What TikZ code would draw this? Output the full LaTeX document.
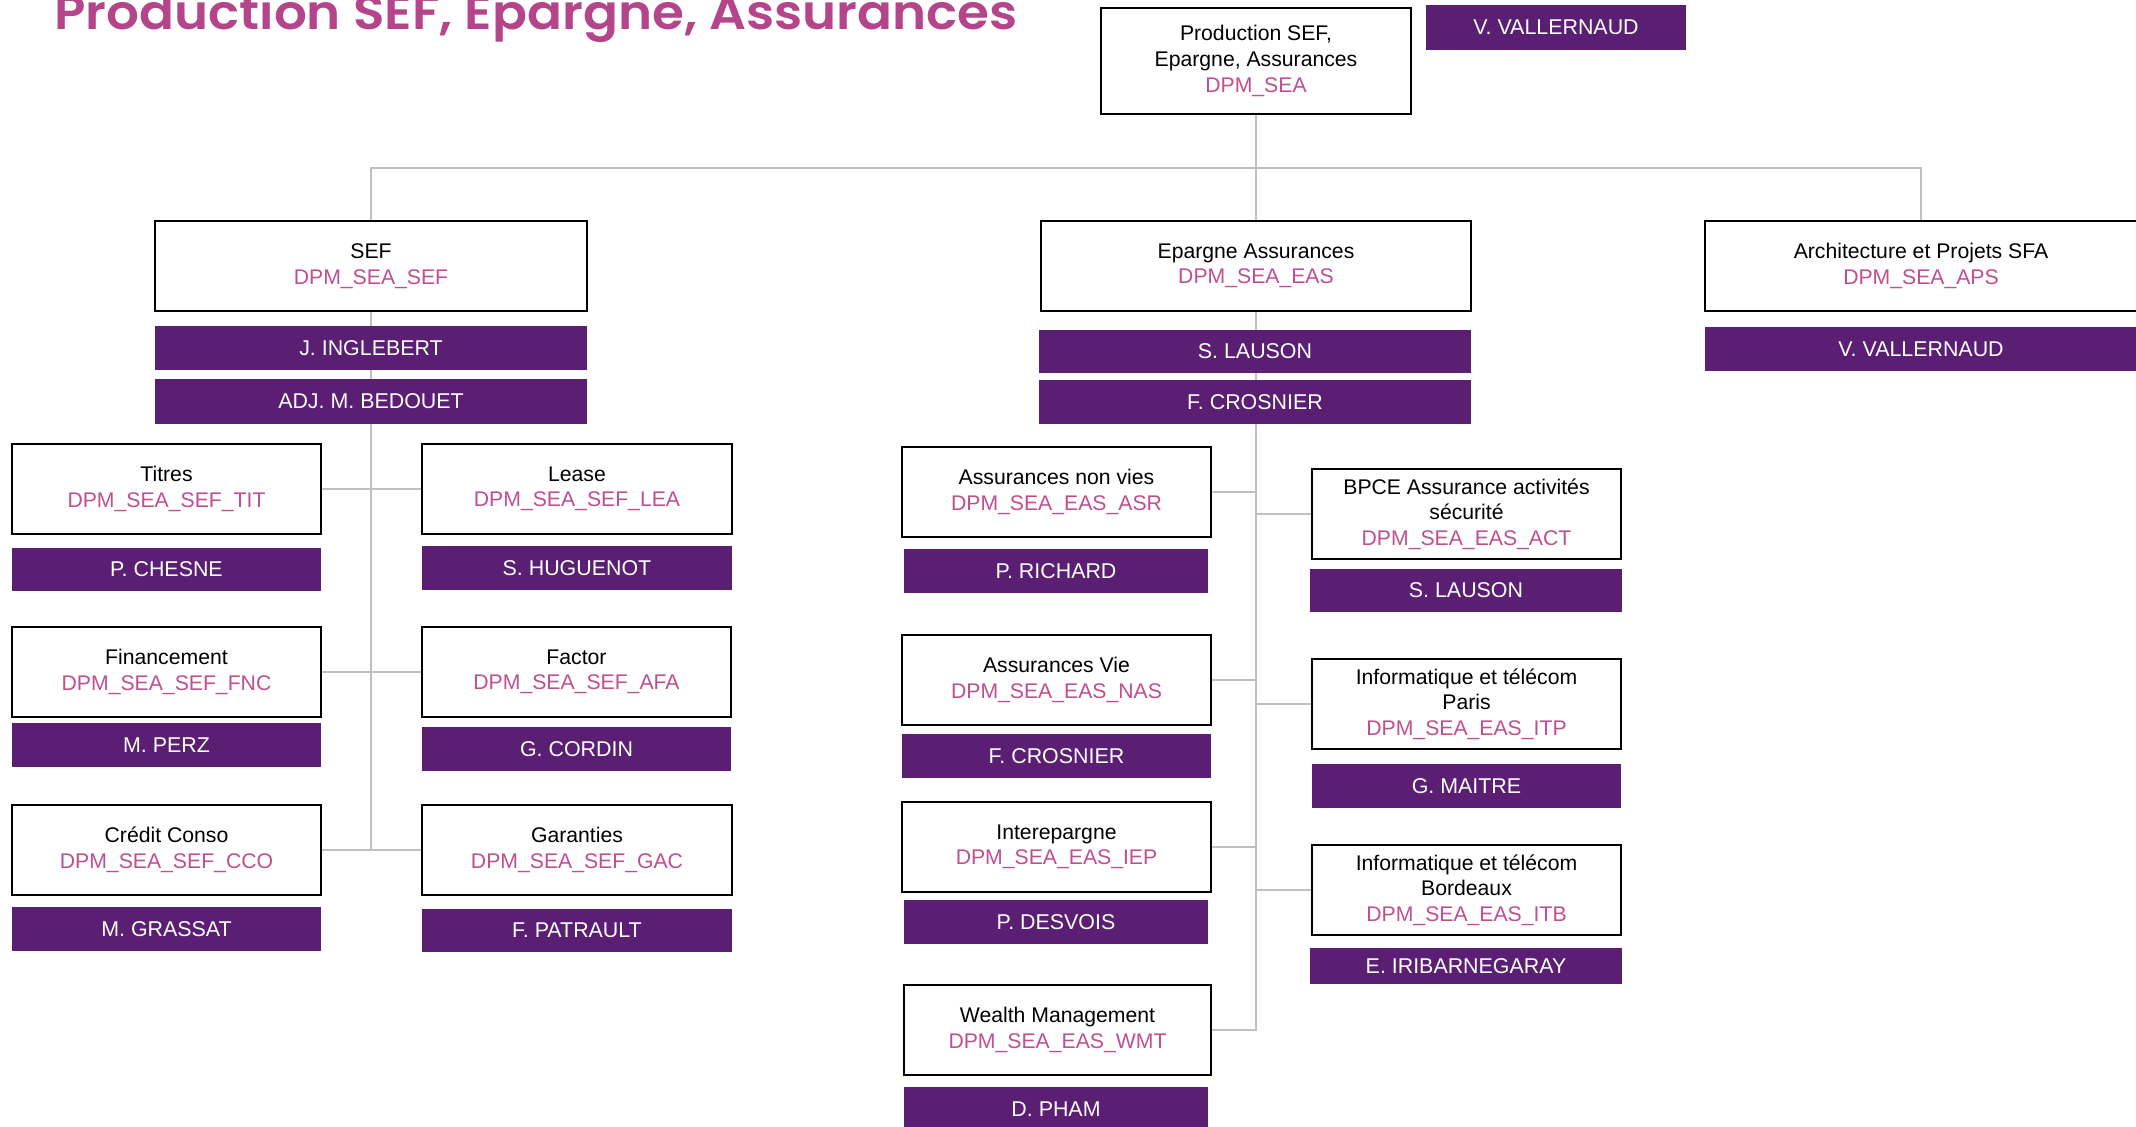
\documentclass[tikz,border=0pt]{standalone}
\usepackage{fontspec}
\setmainfont{Liberation Sans}
\newfontfamily\titlefont{Poppins SemiBold}
\usetikzlibrary{backgrounds}
\definecolor{purp}{HTML}{5A1E72}
\definecolor{codecol}{HTML}{C04F92}
\definecolor{titlecol}{HTML}{B4458A}
\definecolor{linegray}{HTML}{C0C0C0}
\newcommand\dpm[1]{\textcolor{codecol}{#1}}
\newcommand\ubox[7]{%
  \pgfmathsetmacro\ubcx{(#3+#5)/2}%
  \pgfmathsetmacro\ubcy{(#4+#6)/2}%
  \pgfmathsetmacro\ubw{(#5-#3)*0.5}%
  \pgfmathsetmacro\ubh{(#6-#4)*0.5}%
  \node[#1, minimum width=\ubw pt, minimum height=\ubh pt] (#2) at (\ubcx,\ubcy) {#7};}
\tikzset{
  unitbox/.style={draw=black, line width=0.8pt, fill=white, inner sep=0pt, align=center,
    font=\fontsize{10.6}{12.8}\selectfont, text=black},
  namebar/.style={fill=purp, draw=none, inner sep=0pt, align=center,
    font=\fontsize{10.7}{12}\selectfont, text=white},
  conn/.style={draw=linegray, line width=0.9pt},
  titlestyle/.style={anchor=base west, inner sep=0pt, text=titlecol,
    font=\titlefont\fontsize{24}{28}\selectfont}
}
\begin{document}
\begin{tikzpicture}[x=0.5pt,y=-0.5pt]
\useasboundingbox (0,0) rectangle (2136,1127);
\clip (0,0) rectangle (2136,1127);

\node[titlestyle] (title) at (54,30) {\scalebox{1.075}[1]{Production SEF, Epargne, Assurances}};

% top
\ubox{unitbox}{top}{1101}{8}{1411}{114}{Production SEF,\\Epargne, Assurances\\\dpm{DPM\_SEA}}
\ubox{namebar}{topname}{1426}{5}{1686}{50}{V. VALLERNAUD}
\coordinate (hub) at (1256,168);

% level 2
\ubox{unitbox}{sef}{155}{221}{587}{311}{SEF\\\dpm{DPM\_SEA\_SEF}}
\ubox{unitbox}{eas}{1041}{221}{1471}{311}{Epargne Assurances\\\dpm{DPM\_SEA\_EAS}}
\ubox{unitbox}{aps}{1705}{221}{2137}{311}{Architecture et Projets SFA\\\dpm{DPM\_SEA\_APS}}

\ubox{namebar}{sefn1}{155}{326}{587}{370}{J. INGLEBERT}
\ubox{namebar}{sefn2}{155}{379}{587}{424}{ADJ. M. BEDOUET}
\ubox{namebar}{easn1}{1039}{330}{1471}{373}{S. LAUSON}
\ubox{namebar}{easn2}{1039}{380}{1471}{424}{F. CROSNIER}
\ubox{namebar}{apsn}{1705}{327}{2137}{371}{V. VALLERNAUD}

% SEF children
\ubox{unitbox}{tit}{12}{444}{321}{534}{Titres\\\dpm{DPM\_SEA\_SEF\_TIT}}
\ubox{namebar}{titn}{12}{548}{321}{591}{P. CHESNE}
\ubox{unitbox}{lea}{422}{444}{732}{534}{Lease\\\dpm{DPM\_SEA\_SEF\_LEA}}
\ubox{namebar}{lean}{422}{546}{732}{590}{S. HUGUENOT}
\ubox{unitbox}{fnc}{12}{627}{321}{717}{Financement\\\dpm{DPM\_SEA\_SEF\_FNC}}
\ubox{namebar}{fncn}{12}{723}{321}{767}{M. PERZ}
\ubox{unitbox}{afa}{422}{627}{731}{717}{Factor\\\dpm{DPM\_SEA\_SEF\_AFA}}
\ubox{namebar}{afan}{422}{727}{731}{771}{G. CORDIN}
\ubox{unitbox}{cco}{12}{805}{321}{895}{Crédit Conso\\\dpm{DPM\_SEA\_SEF\_CCO}}
\ubox{namebar}{ccon}{12}{907}{321}{951}{M. GRASSAT}
\ubox{unitbox}{gac}{422}{805}{732}{895}{Garanties\\\dpm{DPM\_SEA\_SEF\_GAC}}
\ubox{namebar}{gacn}{422}{909}{732}{952}{F. PATRAULT}

% EAS children left
\ubox{unitbox}{asr}{902}{447}{1211}{537}{Assurances non vies\\\dpm{DPM\_SEA\_EAS\_ASR}}
\ubox{namebar}{asrn}{904}{549}{1208}{593}{P. RICHARD}
\ubox{unitbox}{nas}{902}{635}{1211}{725}{Assurances Vie\\\dpm{DPM\_SEA\_EAS\_NAS}}
\ubox{namebar}{nasn}{902}{734}{1211}{778}{F. CROSNIER}
\ubox{unitbox}{iep}{902}{802}{1211}{892}{Interepargne\\\dpm{DPM\_SEA\_EAS\_IEP}}
\ubox{namebar}{iepn}{904}{900}{1208}{944}{P. DESVOIS}
\ubox{unitbox}{wmt}{904}{985}{1211}{1075}{Wealth Management\\\dpm{DPM\_SEA\_EAS\_WMT}}
\ubox{namebar}{wmtn}{904}{1087}{1208}{1131}{D. PHAM}

% EAS children right
\ubox{unitbox}{act}{1312}{469}{1621}{559}{BPCE Assurance activités\\sécurité\\\dpm{DPM\_SEA\_EAS\_ACT}}
\ubox{namebar}{actn}{1310}{569}{1622}{612}{S. LAUSON}
\ubox{unitbox}{itp}{1312}{659}{1621}{749}{Informatique et télécom\\Paris\\\dpm{DPM\_SEA\_EAS\_ITP}}
\ubox{namebar}{itpn}{1312}{764}{1621}{808}{G. MAITRE}
\ubox{unitbox}{itb}{1312}{845}{1621}{935}{Informatique et télécom\\Bordeaux\\\dpm{DPM\_SEA\_EAS\_ITB}}
\ubox{namebar}{itbn}{1310}{948}{1622}{984}{E. IRIBARNEGARAY}

\begin{pgfonlayer}{background}
\draw[conn] (top.south) -- (hub);
\draw[conn] (sef.north) |- (hub) -| (aps.north);
\draw[conn] (hub) -- (eas.north);
\draw[conn] (sef.south) -- (sef.south |- cco.east);
\draw[conn] (tit.east) -- (lea.west);
\draw[conn] (fnc.east) -- (afa.west);
\draw[conn] (cco.east) -- (gac.west);
\draw[conn] (eas.south) |- (wmt.east);
\draw[conn] (asr.east) -- (asr.east -| eas.south);
\draw[conn] (nas.east) -- (nas.east -| eas.south);
\draw[conn] (iep.east) -- (iep.east -| eas.south);
\draw[conn] (act.west) -- (act.west -| eas.south);
\draw[conn] (itp.west) -- (itp.west -| eas.south);
\draw[conn] (itb.west) -- (itb.west -| eas.south);
\end{pgfonlayer}
\end{tikzpicture}
\end{document}
